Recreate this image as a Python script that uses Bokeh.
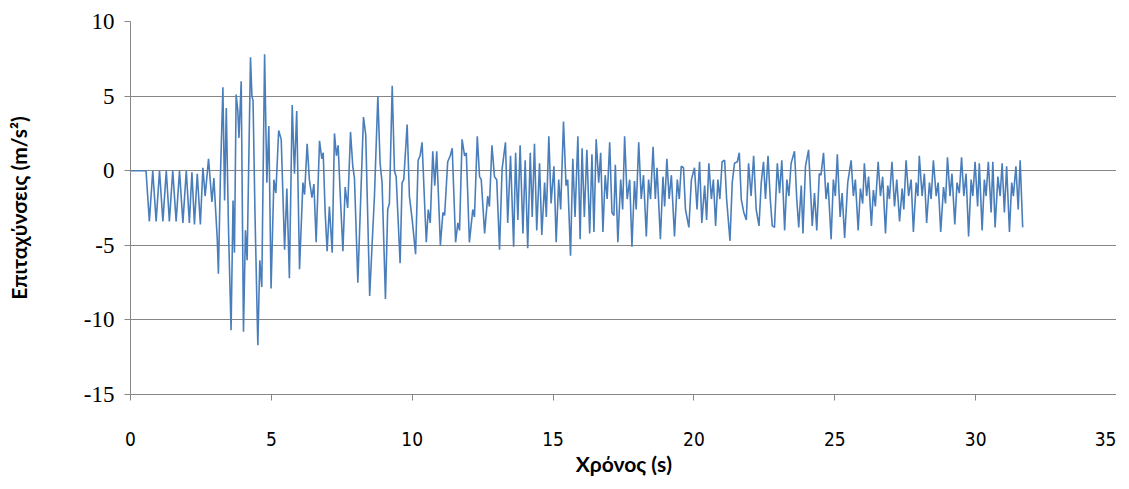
from bokeh.plotting import figure
from bokeh.models import FixedTicker, Range1d, ColumnDataSource, PrintfTickFormatter
from bokeh.embed import file_html
from bokeh.resources import INLINE

# Time (s) of each turning point of the record
time_s = [
    0, 0.55, 0.67, 0.79, 0.91, 1.03, 1.15, 1.27, 1.38, 1.50, 1.62, 1.74, 1.86, 1.98, 2.09, 2.18, 2.27, 2.37, 2.48,
    2.57, 2.65, 2.77, 2.89, 2.96, 3.0, 3.08, 3.12, 3.19, 3.28, 3.34, 3.40, 3.48, 3.57, 3.64, 3.69, 3.75, 3.81, 3.85,
    3.93, 4.01, 4.08, 4.14, 4.26, 4.31, 4.35, 4.42, 4.52, 4.59, 4.66, 4.76, 4.84, 4.91, 4.99, 5.09, 5.16, 5.26, 5.35,
    5.47, 5.55, 5.64, 5.74, 5.82, 5.90, 6.0, 6.12, 6.18, 6.27, 6.35, 6.44, 6.51, 6.59, 6.71, 6.79, 6.84, 6.91, 6.98,
    7.06, 7.16, 7.24, 7.31, 7.37, 7.45, 7.54, 7.62, 7.71, 7.81, 7.89, 7.95, 8.07,
    8.27, 8.35, 8.49, 8.58, 8.66, 8.78, 8.86, 8.93, 9.05, 9.13, 9.19, 9.29, 9.37, 9.43, 9.57, 9.64, 9.70, 9.82, 9.90,
    10.0, 10.12, 10.21, 10.28, 10.35, 10.44, 10.5, 10.57, 10.64, 10.73, 10.80, 10.87, 11.0, 11.09, 11.15, 11.26, 11.35,
    11.42, 11.54, 11.62, 11.68, 11.77, 11.86, 11.92, 12.03, 12.15, 12.21, 12.31, 12.39, 12.45, 12.57, 12.68, 12.74,
    12.83, 12.92, 13.0, 13.1, 13.19, 13.31, 13.39, 13.49, 13.6, 13.67, 13.75, 13.83, 13.93, 14.01, 14.1, 14.19, 14.26,
    14.34, 14.42, 14.52, 14.6, 14.7, 14.76, 14.85, 14.93, 15.03, 15.11, 15.2, 15.27, 15.37, 15.46, 15.52, 15.62, 15.70,
    15.78, 15.88, 15.96, 16.03, 16.11, 16.2,
    16.30, 16.38, 16.45, 16.53, 16.62, 16.69, 16.77, 16.85, 16.92, 17.01, 17.09, 17.16, 17.21, 17.30, 17.40, 17.47,
    17.54, 17.63, 17.72, 17.80, 17.89, 17.95, 18.04, 18.13, 18.21, 18.31, 18.39, 18.46, 18.55, 18.63, 18.69, 18.81,
    18.90, 18.96, 19.04, 19.12, 19.20, 19.31, 19.41, 19.48, 19.55, 19.63, 19.70, 19.82, 19.91, 20.02, 20.11, 20.2,
    20.28, 20.38, 20.45, 20.53, 20.62, 20.69, 20.77, 20.85, 20.92, 21.0, 21.09, 21.16, 21.28, 21.36, 21.44, 21.54,
    21.61, 21.68, 21.77, 21.86, 21.94, 22.03, 22.12, 22.21, 22.31, 22.39, 22.47, 22.54, 22.63, 22.71, 22.78, 22.86,
    22.96, 23.04, 23.12, 23.22, 23.30, 23.37, 23.45, 23.57, 23.65, 23.72, 23.81, 23.87, 23.96, 24.07,
    24.2, 24.28, 24.36, 24.45, 24.51, 24.6, 24.69, 24.76, 24.87, 24.95, 25.02, 25.09, 25.19, 25.26, 25.35, 25.46,
    25.58, 25.66, 25.73, 25.83, 25.91, 25.99, 26.05, 26.13, 26.2, 26.3, 26.37, 26.44, 26.54, 26.62, 26.70, 26.8,
    26.88, 26.94, 27.03, 27.12, 27.2, 27.3, 27.39, 27.45, 27.53, 27.62, 27.71, 27.79, 27.89, 27.95, 28.0, 28.1, 28.18,
    28.26, 28.36, 28.42, 28.5, 28.6, 28.67, 28.76, 28.86, 28.93, 29.0, 29.09, 29.16, 29.26, 29.34, 29.42, 29.5, 29.58,
    29.66, 29.75, 29.84, 29.9, 29.98, 30.07, 30.13, 30.23, 30.31, 30.37, 30.45, 30.55, 30.61, 30.69, 30.79, 30.87,
    30.94, 31.02, 31.1, 31.2, 31.28, 31.34, 31.43, 31.51, 31.58, 31.67,
]

# Acceleration (m/s^2) at each of those times
accel = [
    0, 0, -3.4, 0, -3.4, 0, -3.4, 0, -3.4, 0, -3.4, 0, -3.5, 0, -3.5, -0.1, -3.6, -0.2, -3.6,
    0.2, -1.7, 0.8, -2.1, -0.5, -1.9, -4.6, -6.9, -0.5, 5.6, -2.0, 4.2, -4.0, -10.7, -2.0, -5.5, 5.1, 4.0, 2.2,
    6.0, -10.8, -4.0, -6.0, 7.6, 5.0, 4.7, -3.0, -11.7, -6.0, -7.8, 7.8, -0.8, 3.0, -7.9, -0.6, -1.5, 2.7, 2.1,
    -5.3, -1.2, -7.2, 4.4, -0.2, 4.0, -6.6, -0.8, -1.6, 1.8, -0.6, -1.8, -0.9, -4.8, 2.0, 0.8, 1.2, -2.8, -5.4,
    -2.4, -5.5, 2.5, 1.0, 1.7, -1.8, -5.4, -1.1, -2.5, 2.6, 0.3, -0.5, -7.5,
    3.6, 2.4, -8.4, -4.8, -1.7, 5.0, 0.5, -0.8, -8.6, -2.6, -2.2, 5.7, 0.0, -0.4, -6.2, -0.8, -0.6, 3.1, -1.7,
    -3.3, -5.6, 0.7, 1.0, 1.9, -2.2, -4.8, -2.6, -3.5, 1.3, -1.0, 1.3, -5.0, -2.8, -3.0, 0.6, 1.0,
    1.5, -4.8, -3.5, -4.0, 2.1, 1.0, 1.2, -4.8, -2.6, -3.1, 2.3, -0.4, -0.6, -4.2, -1.7, -2.4,
    1.7, -0.4, -0.6, -5.3, 0.1, 1.9, -3.5, 1.0, -5.1, 1.2, -3.3, 1.7, -4.2, 0.7, -5.2, 1.2, -3.1,
    1.8, -4.0, 0.5, -4.3, -0.8, -3.1, 2.3, -2.2, 0.3, -4.8, -0.6, -2.6, 3.3, -1.0, -0.6, -5.7, 0.8,
    -3.1, 2.3, -4.6, 1.5, -3.1, 1.4,
    -4.2, 1.1, -4.1, 2.1, -0.8, 1.2, -4.1, -0.3, -1.9, 1.9, -2.8, -3.0, 0.4, -4.8, -0.6, -2.6,
    2.3, -1.9, -0.6, -5.1, -0.7, -2.6, 1.9, -1.9, -0.3, -4.4, -0.6, -1.9, 1.6, -1.9, 0.2, -4.6,
    -0.4, -2.4, 0.8, -1.9, -0.3, -4.4, -0.6, -1.9, 0.3, 0.2, -2.6, -3.8, -0.6, 0.2, -2.6, 0.6,
    -3.5, -1.0, -3.3, 0.5, -1.9, -0.6, -3.7, -0.6, -1.9, 0.6, 0.7, -1.9, -4.7, -0.8, 0.5, 0.6,
    1.2, -1.9, -2.8, -3.3, 0.5, -1.7, 1.0, -2.6, -3.7, -0.8, 0.6, -1.9, 1.0, -1.9, -3.7, -3.8,
    0.5, -1.5, 0.7, -4.0, -0.6, -1.7, 0.5, 1.3, -1.9, -3.8, -1.0, -4.2, 0.3, 1.4,
    -3.7, -1.5, -4.0, -0.2, -0.3, 1.2, -1.9, -0.8, -4.6, -0.6, -1.7, 1.1, -3.1, -1.5, -4.5, -0.8,
    0.7, -1.7, -0.6, -4.0, -1.2, -2.2, 0.5, -1.7, -0.4, -3.7, -1.3, -2.4, 0.6, -1.7, -0.4, -4.2,
    -1.0, -1.9, 0.6, -2.4, -0.6, -3.4, -1.2, -2.6, 0.7, -1.7, -0.6, -4.1, -0.8, -1.7, 1.0, -1.7, -0.2,
    -3.5, -0.8, -1.9, 0.7, -1.7, -0.8, -4.1, -1.1, -2.2, 0.9, -1.7, -0.2, -3.6, -0.8, -1.5, 0.9, -1.7,
    -0.2, -4.4, -0.6, -1.7, 0.6, -2.4, 0.5, -4.0, -0.6, -1.7, 0.6, -2.8, 0.6, -3.8, -0.4, -1.7,
    0.5, -2.8, 0.3, -4.1, -0.8, -1.7, 0.3, -2.6, 0.7, -3.8,
]

x_ticks = [0, 5, 10, 15, 20, 25, 30, 35]
y_ticks = [-15, -10, -5, 0, 5, 10]
x_title = "Χρόνος (s)"
y_title = "Επιταχύνσεις (m/s²)"

src = ColumnDataSource(data=dict(t=time_s, a=accel))

p = figure(width=1116, height=484, output_backend="svg", toolbar_location=None,
           x_range=Range1d(0, 35), y_range=Range1d(-15, 10),
           min_border_left=130, min_border_right=0, min_border_top=21, min_border_bottom=90)
p.outline_line_color = None
p.background_fill_color = "white"
p.border_fill_color = "white"

p.line("t", "a", source=src, line_color="#4A7EBB", line_width=1.6)

grid_col = "#868686"
p.xgrid.visible = False
p.ygrid.ticker = FixedTicker(ticks=y_ticks)
p.ygrid.grid_line_color = grid_col
p.ygrid.grid_line_width = 1

p.xaxis.ticker = FixedTicker(ticks=x_ticks)
p.yaxis.ticker = FixedTicker(ticks=y_ticks)
for ax in (p.xaxis[0], p.yaxis[0]):
    ax.formatter = PrintfTickFormatter(format="%d")
    ax.axis_line_color = grid_col
    ax.major_tick_line_color = grid_col
    ax.minor_tick_line_color = None
    ax.major_tick_in = 0
    ax.major_tick_out = 6
    ax.major_label_text_color = "#000000"
    ax.axis_label_text_color = "#000000"
    ax.axis_label_text_font = "Lato"
    ax.axis_label_text_font_style = "bold"
    ax.axis_label_text_font_size = "21px"

p.xaxis.major_label_text_font = "DejaVu Sans Condensed"
p.xaxis.major_label_text_font_size = "19px"
p.xaxis.major_label_standoff = 31
p.xaxis.axis_label = x_title
p.xaxis.axis_label_standoff = 2

p.yaxis.major_label_text_font = "Liberation Serif"
p.yaxis.major_label_text_font_size = "23px"
p.yaxis.major_label_standoff = 10
p.yaxis.axis_label = y_title
p.yaxis.axis_label_standoff = 50

open("out.html", "w").write(file_html(p, INLINE))
